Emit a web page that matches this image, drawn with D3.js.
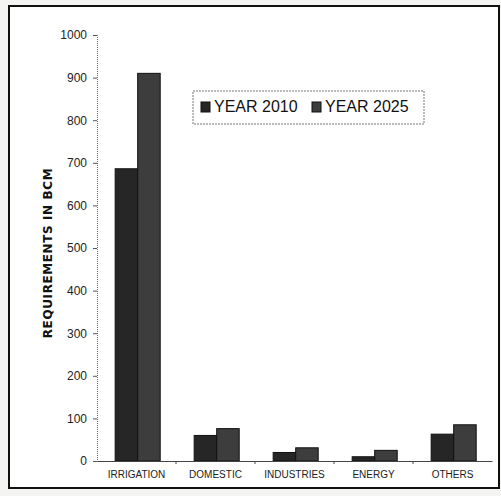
<!DOCTYPE html>
<html>
<head>
<meta charset="utf-8">
<script src="https://cdn.jsdelivr.net/npm/d3@7/dist/d3.min.js"></script>
<style>
  body { margin: 0; background: #f4f4f2; }
  svg { display: block; }
</style>
</head>
<body>
<div id="chart"></div>
<script>
const categories = ["IRRIGATION", "DOMESTIC", "INDUSTRIES", "ENERGY", "OTHERS"];
const seriesNames = ["YEAR 2010", "YEAR 2025"];
const year2010 = [686, 60, 20, 10, 63];
const year2025 = [910, 76, 31, 25, 85];
const yTicks = [0, 100, 200, 300, 400, 500, 600, 700, 800, 900, 1000];

const width = 501, height = 496;
const margin = {top: 35, right: 9, bottom: 35, left: 97};
const colors = ["#262626", "#3d3d3d"];

const svg = d3.select("#chart").append("svg")
    .attr("width", width)
    .attr("height", height);

// scanned page frame
svg.append("rect")
    .attr("x", 9).attr("y", 6)
    .attr("width", 490).attr("height", 482)
    .attr("fill", "#fff")
    .attr("stroke", "#111")
    .attr("stroke-width", 2);

const x = d3.scaleBand()
    .domain(categories)
    .range([margin.left, width - margin.right])
    .paddingInner(0)
    .paddingOuter(0);

const x1 = d3.scaleBand()
    .domain(seriesNames)
    .range([x.bandwidth() * 0.23, x.bandwidth() * 0.8]);

const y = d3.scaleLinear()
    .domain([0, 1000])
    .range([height - margin.bottom, margin.top]);

// bars
const rows = categories.map((c, i) => ({cat: c, vals: [year2010[i], year2025[i]]}));
const groups = svg.selectAll(".grp")
    .data(rows)
    .join("g")
    .attr("class", "grp")
    .attr("transform", d => `translate(${x(d.cat)},0)`);

groups.selectAll("rect")
    .data(d => d.vals.map((v, j) => ({s: seriesNames[j], v, j})))
    .join("rect")
    .attr("x", d => x1(d.s))
    .attr("y", d => y(d.v))
    .attr("width", x1.bandwidth())
    .attr("height", d => y(0) - y(d.v))
    .attr("fill", d => colors[d.j])
    .attr("stroke", "#111")
    .attr("stroke-width", 1);

// y axis
const yAxis = svg.append("g")
    .attr("transform", `translate(${margin.left},0)`)
    .call(d3.axisLeft(y).tickValues(yTicks).tickFormat(d3.format("d")).tickSize(4).tickPadding(6));
yAxis.select(".domain").attr("stroke", "#666").attr("stroke-dasharray", "1,1");
yAxis.selectAll(".tick line").attr("stroke", "#555");
yAxis.selectAll("text")
    .attr("font-family", "Liberation Sans, Arial, sans-serif")
    .attr("font-size", 12)
    .attr("fill", "#222");

// x axis
const xAxis = svg.append("g")
    .attr("transform", `translate(0,${y(0)})`)
    .call(d3.axisBottom(x).tickSize(0).tickPadding(10));
xAxis.select(".domain").attr("stroke", "#444");
xAxis.selectAll("text")
    .attr("font-family", "Liberation Sans, Arial, sans-serif")
    .attr("font-size", 10)
    .attr("fill", "#222");
xAxis.selectAll(".sep")
    .data(categories.slice(1))
    .join("line")
    .attr("class", "sep")
    .attr("x1", d => x(d)).attr("x2", d => x(d))
    .attr("y1", 0).attr("y2", 3)
    .attr("stroke", "#444");

// y title
svg.append("text")
    .attr("transform", `translate(52,${(y(0) + y(1000)) / 2 + 5}) rotate(-90)`)
    .attr("text-anchor", "middle")
    .attr("font-family", "DejaVu Sans, Arial, sans-serif")
    .attr("font-weight", "bold")
    .attr("font-size", 12)
    .attr("letter-spacing", 0.6)
    .attr("fill", "#111")
    .text("REQUIREMENTS IN BCM");

// legend
const legend = svg.append("g").attr("transform", "translate(193,91)");
legend.append("rect")
    .attr("width", 231).attr("height", 33)
    .attr("fill", "#fff")
    .attr("stroke", "#777")
    .attr("stroke-dasharray", "2,1");
const li = legend.selectAll(".li")
    .data(seriesNames)
    .join("g")
    .attr("class", "li")
    .attr("transform", (d, i) => `translate(${8 + i * 111},11)`);
li.append("rect")
    .attr("width", 9).attr("height", 10)
    .attr("fill", (d, i) => colors[i])
    .attr("stroke", "#111");
li.append("text")
    .attr("x", 13).attr("y", 10)
    .attr("font-family", "Liberation Sans, Arial, sans-serif")
    .attr("font-size", 16)
    .attr("fill", "#111")
    .text(d => d);
</script>
</body>
</html>
